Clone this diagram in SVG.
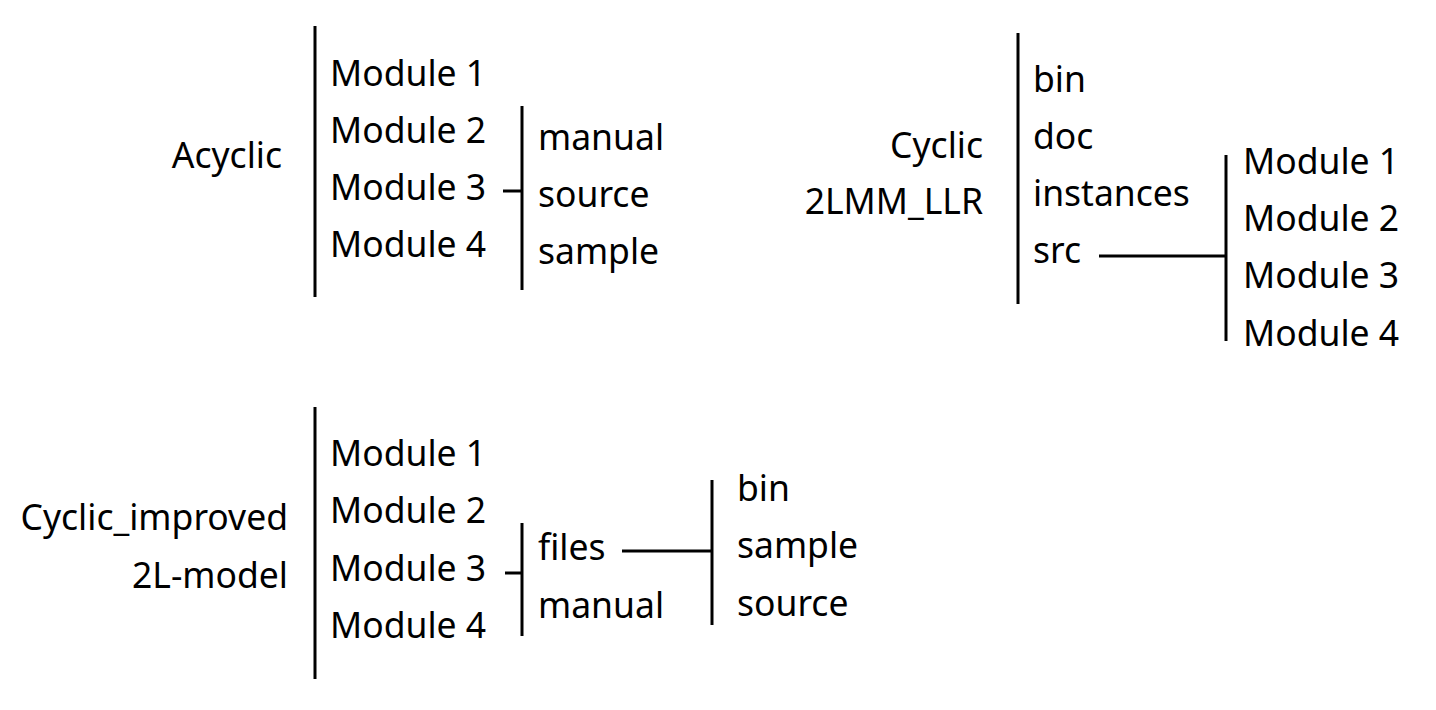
<svg xmlns="http://www.w3.org/2000/svg" width="1436" height="710" viewBox="0 0 1436 710">
<style>
text{font-family:"Noto Sans","Noto Sans CJK SC",sans-serif;font-size:35.5px;fill:#000}
.r{text-anchor:end}
line{stroke:#000;stroke-width:3}
</style>
<rect width="1436" height="710" fill="#fff"/>
<g id="connectors">
<line x1="315" y1="26" x2="315" y2="297"/>
<line x1="503" y1="191" x2="522" y2="191"/>
<line x1="522" y1="106" x2="522" y2="290"/>
<line x1="1018" y1="33" x2="1018" y2="304"/>
<line x1="1099" y1="256" x2="1226" y2="256"/>
<line x1="1226" y1="155" x2="1226" y2="341"/>
<line x1="315" y1="407" x2="315" y2="679"/>
<line x1="505" y1="573" x2="522" y2="573"/>
<line x1="522" y1="523" x2="522" y2="636"/>
<line x1="622" y1="551" x2="712" y2="551"/>
<line x1="712" y1="480" x2="712" y2="625"/>
</g>
<g id="acyclic"><text class="r" x="282" y="168">Acyclic</text></g>
<g id="acyclic-modules">
<text x="330" y="86">Module 1</text>
<text x="330" y="143">Module 2</text>
<text x="330" y="200">Module 3</text>
<text x="330" y="257">Module 4</text>
</g>
<g id="acyclic-m3">
<text x="538" y="150">manual</text>
<text x="538" y="207">source</text>
<text x="538" y="264">sample</text>
</g>
<g id="cyclic">
<text class="r" x="983" y="158">Cyclic</text>
<text class="r" x="983" y="214">2LMM_LLR</text>
</g>
<g id="cyclic-dirs">
<text x="1033" y="92">bin</text>
<text x="1033" y="149">doc</text>
<text x="1033" y="206">instances</text>
<text x="1033" y="263">src</text>
</g>
<g id="cyclic-src">
<text x="1243" y="174">Module 1</text>
<text x="1243" y="231">Module 2</text>
<text x="1243" y="288">Module 3</text>
<text x="1243" y="346">Module 4</text>
</g>
<g id="improved">
<text class="r" x="288" y="530">Cyclic_improved</text>
<text class="r" x="288" y="588">2L-model</text>
</g>
<g id="improved-modules">
<text x="330" y="466">Module 1</text>
<text x="330" y="523">Module 2</text>
<text x="330" y="581">Module 3</text>
<text x="330" y="638">Module 4</text>
</g>
<g id="improved-m3">
<text x="538" y="560">files</text>
<text x="538" y="618">manual</text>
</g>
<g id="improved-files">
<text x="737" y="501">bin</text>
<text x="737" y="558">sample</text>
<text x="737" y="616">source</text>
</g>
</svg>
